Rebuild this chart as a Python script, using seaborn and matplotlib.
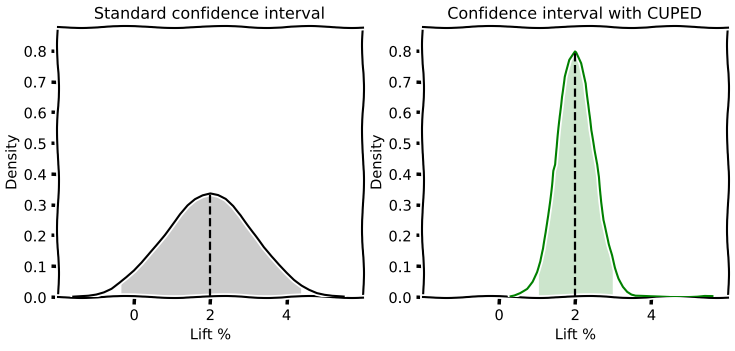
import numpy as np
import matplotlib.pyplot as plt
import seaborn as sns

# lift curves (density per % lift)
std_x = [-1.6, -1.4, -1.2, -1.0, -0.8, -0.6, -0.4, -0.2, 0.0, 0.2, 0.4, 0.6, 0.8,
         1.0, 1.2, 1.4, 1.6, 1.8, 2.0, 2.2, 2.4, 2.6, 2.8, 3.0, 3.2, 3.4, 3.6,
         3.8, 4.0, 4.2, 4.4, 4.6, 4.8, 5.0, 5.2, 5.5]
std_d = [0.001, 0.003, 0.005, 0.009, 0.016, 0.027, 0.045, 0.064, 0.085, 0.111, 0.141,
         0.171, 0.202, 0.236, 0.269, 0.297, 0.317, 0.329, 0.335, 0.330, 0.318, 0.296,
         0.266, 0.231, 0.197, 0.161, 0.131, 0.104, 0.079, 0.056, 0.038, 0.024, 0.013,
         0.007, 0.003, 0.0]

cuped_x = [0.3, 0.4, 0.55, 0.73, 0.87, 0.99, 1.08, 1.16, 1.23, 1.29, 1.34, 1.38,
           1.42, 1.47, 1.52, 1.59, 1.64, 1.72, 1.85, 2.0, 2.15, 2.28, 2.35, 2.41,
           2.5, 2.58, 2.63, 2.68, 2.73, 2.8, 2.88, 2.97, 3.05, 3.14, 3.25, 3.36,
           3.47, 3.58, 4.0, 4.5, 5.0, 5.2, 5.4, 5.6]
cuped_d = [0.002, 0.005, 0.013, 0.027, 0.05, 0.081, 0.115, 0.157, 0.21, 0.266, 0.32,
           0.363, 0.41, 0.43, 0.488, 0.585, 0.65, 0.715, 0.77, 0.797, 0.759, 0.694,
           0.618, 0.542, 0.477, 0.43, 0.39, 0.31, 0.25, 0.211, 0.17, 0.136, 0.095,
           0.06, 0.033, 0.016, 0.007, 0.003, 0.001, 0.0, 0.001, 0.002, 0.004, 0.003]

lift_mean = 2.0
std_ci = (-0.35, 4.37)
cuped_ci = (1.03, 2.97)

plt.xkcd()
plt.rcParams['font.family'] = ['DejaVu Sans']

fig, axes = plt.subplots(1, 2, figsize=(7.35, 3.51), dpi=100)
fig.subplots_adjust(left=0.079, right=0.99, bottom=0.154, top=0.923, wspace=0.198)


def draw_ci(ax, x, d, ci, color, fill_color, alpha, title):
    xs = np.array(x)
    ds = np.array(d)
    lo, hi = ci
    inside = (xs > lo) & (xs < hi)
    fx = np.concatenate([[lo], xs[inside], [hi]])
    fy = np.interp(fx, xs, ds)
    fill = ax.fill_between(fx, fy, color=fill_color, alpha=alpha, lw=0, zorder=1)
    fill.set_sketch_params(None)
    sns.lineplot(x=xs, y=ds, ax=ax, color=color, lw=1.5, zorder=3)
    ax.lines[-1].set_sketch_params(0.4, 100, 2)
    peak = np.interp(lift_mean, xs, ds)
    vl = ax.vlines(lift_mean, 0, peak, colors='k', linestyles='--', lw=1.6, zorder=4)
    vl.set_sketch_params(None)

    ax.set_xlim(-2, 6)
    ax.set_ylim(0, 0.877)
    ax.set_xticks([0, 2, 4])
    ax.set_yticks(np.arange(0, 0.81, 0.1))
    ax.set_yticklabels([f'{v:.1f}' for v in np.arange(0, 0.81, 0.1)])
    ax.tick_params(labelsize=10.5, length=5, width=2.5, pad=3)
    ax.set_xlabel('Lift %', fontsize=10.5, labelpad=3)
    ax.set_ylabel('Density', fontsize=10.5, labelpad=3)
    ax.set_title(title, fontsize=11.5)


draw_ci(axes[0], std_x, std_d, std_ci, 'black', 'gray', 0.4, 'Standard confidence interval')
draw_ci(axes[1], cuped_x, cuped_d, cuped_ci, 'green', 'green', 0.2, 'Confidence interval with CUPED')

plt.savefig('out.png', dpi=100)
